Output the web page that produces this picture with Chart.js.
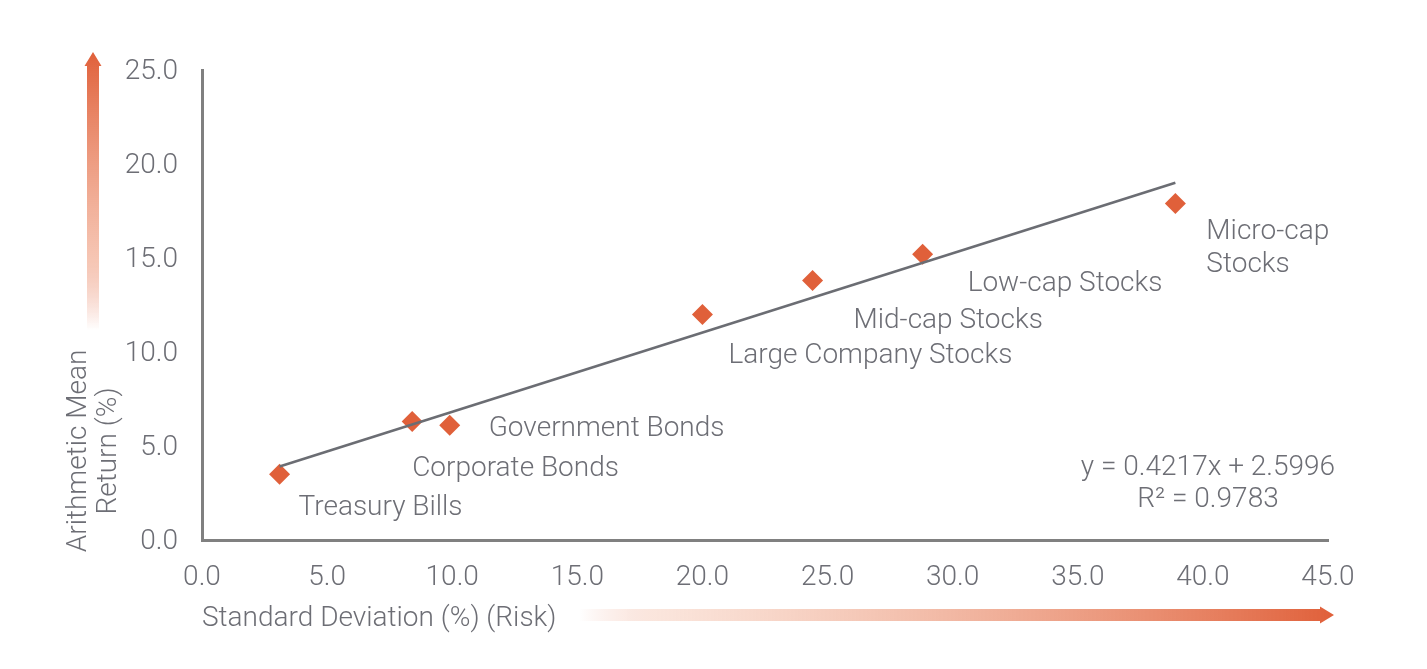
<!DOCTYPE html>
<html>
<head>
<meta charset="utf-8">
<script src="https://cdn.jsdelivr.net/npm/chart.js@4/dist/chart.umd.min.js"></script>
<style>
  html,body{margin:0;padding:0;background:#fff;}
  #wrap{width:1427px;height:669px;position:relative;}
</style>
</head>
<body>
<div id="wrap"><canvas id="c" width="1427" height="669"></canvas></div>
<script>
// ---- data ----
const categories = ['Treasury Bills','Corporate Bonds','Government Bonds','Large Company Stocks','Mid-cap Stocks','Low-cap Stocks','Micro-cap\nStocks'];
const stdDev     = [3.1, 8.4, 9.9, 20.0, 24.4, 28.8, 38.9];
const meanReturn = [3.5, 6.3, 6.1, 12.0, 13.8, 15.2, 17.9];
const trendX = [3.1, 38.9];
const trendY = [3.91, 19.00];
const equationLines = ['y = 0.4217x + 2.5996', 'R\u00B2 = 0.9783'];
const xTitle = 'Standard Deviation (%) (Risk)';
const yTitleLines = ['Arithmetic Mean', 'Return (%)'];

const TEXT = '#6d6e75';
const ORANGE = 'rgb(224,96,58)';
const FONT = 'Roboto';
const FS = 28;

const labelPlugin = {
  id: 'pointLabels',
  afterDatasetsDraw(chart, args, opts) {
    const ctx = chart.ctx;
    const xs = chart.scales.x, ys = chart.scales.y;
    ctx.save();
    ctx.font = '300 ' + FS + 'px ' + FONT;
    ctx.fillStyle = TEXT;
    ctx.textAlign = 'left';
    ctx.textBaseline = 'middle';
    categories.forEach((name, i) => {
      const px = xs.getPixelForValue(stdDev[i]);
      const py = ys.getPixelForValue(meanReturn[i]);
      const off = opts.offsets[i];
      name.split('\n').forEach((line, j) => {
        ctx.fillText(line, px + off[0], py + off[1] + j * 33);
      });
    });
    // equation
    ctx.textAlign = 'center';
    const ca = chart.chartArea;
    equationLines.forEach((line, j) => {
      ctx.fillText(line, ca.right - 120, ca.bottom - 72 + j * 32);
    });
    // y title (rotated, two lines centred)
    ctx.translate(79, 451);
    ctx.rotate(-Math.PI / 2);
    ctx.textAlign = 'center';
    yTitleLines.forEach((line, j) => ctx.fillText(line, 0, j * 30));
    ctx.restore();
  }
};

const arrowPlugin = {
  id: 'arrows',
  afterDraw(chart) {
    const ctx = chart.ctx;
    ctx.save();
    // vertical arrow
    let cx = 93, y0 = 330, yTip = 52, head = 14, sw = 6, hw = 8.5;
    let g = ctx.createLinearGradient(0, y0, 0, yTip);
    g.addColorStop(0, 'rgba(224,96,58,0)');
    g.addColorStop(0.25, 'rgba(240,160,130,0.6)');
    g.addColorStop(1, ORANGE);
    ctx.fillStyle = g;
    ctx.beginPath();
    ctx.moveTo(cx - sw, y0);
    ctx.lineTo(cx - sw, yTip + head);
    ctx.lineTo(cx - hw, yTip + head);
    ctx.lineTo(cx, yTip);
    ctx.lineTo(cx + hw, yTip + head);
    ctx.lineTo(cx + sw, yTip + head);
    ctx.lineTo(cx + sw, y0);
    ctx.closePath();
    ctx.fill();
    // horizontal arrow
    let cy = 615, x0 = 580, xTip = 1334;
    g = ctx.createLinearGradient(x0, 0, xTip, 0);
    g.addColorStop(0, 'rgba(224,96,58,0)');
    g.addColorStop(0.1, 'rgba(240,170,140,0.3)');
    g.addColorStop(1, ORANGE);
    ctx.fillStyle = g;
    ctx.beginPath();
    ctx.moveTo(x0, cy - sw);
    ctx.lineTo(xTip - head, cy - sw);
    ctx.lineTo(xTip - head, cy - hw);
    ctx.lineTo(xTip, cy);
    ctx.lineTo(xTip - head, cy + hw);
    ctx.lineTo(xTip - head, cy + sw);
    ctx.lineTo(x0, cy + sw);
    ctx.closePath();
    ctx.fill();
    ctx.restore();
  }
};

new Chart(document.getElementById('c'), {
  type: 'scatter',
  data: {
    datasets: [
      {
        type: 'line',
        label: 'Trend',
        data: trendX.map((x, i) => ({ x, y: trendY[i] })),
        borderColor: '#6b6d73',
        borderWidth: 2.5,
        pointRadius: 0,
        fill: false,
        order: 0
      },
      {
        label: 'Asset classes',
        data: stdDev.map((x, i) => ({ x, y: meanReturn[i] })),
        pointStyle: 'rectRot',
        pointRadius: 10.5,
        pointHoverRadius: 10.5,
        backgroundColor: ORANGE,
        borderColor: ORANGE,
        borderWidth: 0,
        order: 1
      }
    ]
  },
  options: {
    responsive: false,
    animation: false,
    events: [],
    layout: { padding: { left: 0, top: 70, right: 99, bottom: 0 } },
    plugins: {
      legend: { display: false },
      tooltip: { enabled: false },
      pointLabels: {
        offsets: [[19, 34], [0, 47], [39, 4], [26, 42], [41, 40], [45, 30], [31, 29]]
      }
    },
    scales: {
      x: {
        type: 'linear',
        min: 0, max: 45,
        afterFit: s => { s.height = 129; },
        grid: { display: false, drawTicks: false },
        border: { display: true, color: '#808080', width: 3 },
        ticks: {
          stepSize: 5,
          padding: 21,
          color: TEXT,
          font: { family: FONT, size: FS, weight: '300' },
          callback: v => v.toFixed(1)
        },
        title: {
          display: true,
          text: xTitle,
          align: 'start',
          color: TEXT,
          font: { family: FONT, size: FS, weight: '300' },
          padding: { top: 0, bottom: 33 }
        }
      },
      y: {
        type: 'linear',
        min: 0, max: 25,
        afterFit: s => { s.width = 202; },
        grid: { display: false, drawTicks: false },
        border: { display: true, color: '#808080', width: 3 },
        ticks: {
          stepSize: 5,
          padding: 24,
          labelOffset: 2,
          color: TEXT,
          font: { family: FONT, size: FS, weight: '300' },
          callback: v => v.toFixed(1)
        }
      }
    }
  },
  plugins: [labelPlugin, arrowPlugin]
});
</script>
</body>
</html>
